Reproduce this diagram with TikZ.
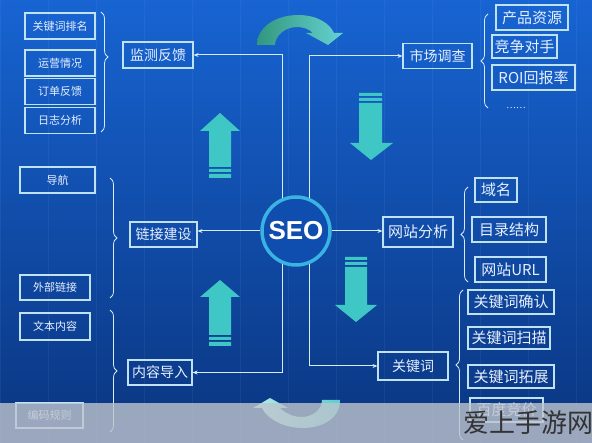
\documentclass[tikz,border=0pt]{standalone}
\usepackage{fontspec}
\setmainfont{Noto Sans CJK SC}
\newfontfamily\seofont{Liberation Sans}
\usetikzlibrary{decorations.pathreplacing,arrows.meta}
\definecolor{bgtop}{HTML}{1764D2}
\definecolor{bgmid}{HTML}{1152BE}
\definecolor{bgbot}{HTML}{0A3580}
\definecolor{boxline}{HTML}{BFE3F5}
\definecolor{boxtext}{HTML}{E6F0FF}
\definecolor{linecol}{HTML}{D6ECF8}
\definecolor{ringcol}{HTML}{3AB2E2}
\definecolor{seofill}{HTML}{0F4DAE}
\definecolor{arrowcyan}{HTML}{3FC7C6}
\definecolor{arrowgreen}{HTML}{33977E}
\definecolor{bandgrey}{HTML}{BEC4CD}
\tikzset{
  box/.style={draw=boxline, line width=1.1pt, text=boxtext, inner sep=2pt},
  subbox/.style={box, font=\fontsize{11}{12}\selectfont, minimum height=26pt},
  mainbox/.style={box, font=\fontsize{14}{16}\selectfont, minimum height=26pt},
  rightbox/.style={box, font=\fontsize{15}{17}\selectfont, minimum height=24pt},
  link/.style={draw=linecol, line width=1pt, -{Stealth[length=5pt,width=4pt]}},
  brace/.style={draw=linecol, line width=0.8pt, decorate, decoration={brace, amplitude=7pt}},
  bigarrow/.style={fill=arrowcyan},
  gridline/.style={draw=white, opacity=0.05, line width=0.6pt}
}
\begin{document}
\begin{tikzpicture}[x=1pt, y=-1pt]
\useasboundingbox (0,0) rectangle (592,443);
% background
\shade[top color=bgtop, middle color=bgmid, bottom color=bgbot] (0,0) rectangle (592,443);
\draw[gridline] (0,0) grid[step=48] (592,443);

% monitoring group
\node[subbox, minimum width=70pt] (rank) at (60,26) {关键词排名};
\node[subbox, minimum width=70pt] (oper) at (60,63) {运营情况};
\node[subbox, minimum width=70pt] (order) at (60,91.5) {订单反馈};
\node[subbox, minimum width=70pt] (log) at (60,120.5) {日志分析};
\node[mainbox, minimum width=70pt] (mon) at (158,55) {监测反馈};
\draw[brace, decoration={aspect=0.375}] (101,12) -- (101,132);

% market group
\node[mainbox, minimum width=69pt, minimum height=25pt] (mkt) at (437.5,56) {市场调查};
\node[rightbox, minimum width=72pt, minimum height=25pt] (prod) at (532,17.5) {产品资源};
\node[rightbox, minimum width=65pt, minimum height=23pt] (rival) at (524.5,46.5) {竞争对手};
\node[rightbox, minimum width=83pt, minimum height=25pt] (roi) at (533.5,77.5) {ROI回报率};
\node[text=boxtext, font=\fontsize{9}{10}\selectfont] (more) at (516,108) {……};
\draw[brace] (488,108) -- (488,14);

% link group
\node[subbox, minimum width=75pt] (nav) at (57.5,180) {导航};
\node[subbox, minimum width=70pt, minimum height=25pt] (ext) at (55,287.5) {外部链接};
\node[mainbox, minimum width=67pt, minimum height=25pt] (link) at (163.5,234.5) {链接建设};
\draw[brace] (110,178) -- (110,298);

% site group
\node[mainbox, minimum width=70pt, minimum height=30pt, font=\fontsize{15}{17}\selectfont] (site) at (418,232) {网站分析};
\node[rightbox, minimum width=42pt] (domain) at (496,190) {域名};
\node[rightbox, minimum width=74pt, minimum height=25pt] (dir) at (509,229.5) {目录结构};
\node[rightbox, minimum width=71pt, minimum height=25pt] (url) at (510.5,269.5) {网站URL};
\draw[brace] (468,282) -- (468,187);

% content group
\node[subbox, minimum width=70pt, minimum height=27pt] (text) at (55,326.5) {文本内容};
\node[subbox, minimum width=67pt, minimum height=25pt] (code) at (49.5,415.5) {编码规则};
\node[mainbox, minimum width=64pt, minimum height=25pt] (content) at (160,372.5) {内容导入};
\draw[brace] (110,310) -- (110,432);

% keyword group
\node[mainbox, minimum width=70pt, minimum height=28pt] (kw) at (413,366) {关键词};
\node[rightbox, minimum width=86pt] (kwok) at (511,302) {关键词确认};
\node[rightbox, minimum width=82pt, minimum height=22pt] (kwscan) at (509,338) {关键词扫描};
\node[rightbox, minimum width=86pt, minimum height=23pt] (kwext) at (511,376.5) {关键词拓展};
\node[rightbox, minimum width=73pt] (bid) at (506.5,410) {百度竞价};
\draw[brace] (463,440) -- (463,290);

% centre
\node[circle, draw=ringcol, line width=3.5pt, fill=seofill, minimum size=68pt, inner sep=0pt,
  text=white, font=\seofont\bfseries\fontsize{26}{28}\selectfont] (seo) at (296,231) {SEO};
\draw[link] (seo.113) |- (mon.east);
\draw[link] (seo.67) |- (mkt.west);
\draw[link] (seo.-113) |- (content.east);
\draw[link] (seo.-67) |- (kw.west);
\draw[link] (seo.west) -- (link.east |- seo.west);
\draw[link] (seo.east) -- (site.west |- seo.east);

% block arrows
\fill[bigarrow] (220,113) -- (240,131) -- (231,131) -- (231,167) -- (209,167) -- (209,131) -- (200,131) -- cycle;
\fill[bigarrow] (209,169) rectangle (231,172) (209,174) rectangle (231,178);
\fill[bigarrow] (359,93) rectangle (382,96) (359,98) rectangle (382,101);
\fill[bigarrow] (359,103) -- (382,103) -- (382,143) -- (393,143) -- (371,160) -- (350,143) -- (359,143) -- cycle;
\fill[bigarrow] (345,257) rectangle (367,260) (345,262) rectangle (367,265);
\fill[bigarrow] (345,267) -- (367,267) -- (367,305) -- (377,305) -- (356,322) -- (335,305) -- (345,305) -- cycle;
\fill[bigarrow] (220,280) -- (240,297) -- (231,297) -- (231,335) -- (209,335) -- (209,297) -- (200,297) -- cycle;
\fill[bigarrow] (209,337) rectangle (231,340) (209,342) rectangle (231,346);

% curved arrows
\shade[left color=arrowgreen, right color=arrowcyan!80!white]
  (257,45) .. controls (257,27) and (276,15) .. (298,15)
  .. controls (318,15) and (330,24) .. (334,33) -- (343,33) -- (328,45) -- (306,33) -- (313,33)
  .. controls (309,29) and (303,27) .. (297,27)
  .. controls (285,27) and (275,36) .. (275,45) -- cycle;
\shade[left color=arrowcyan!40!white, right color=arrowcyan!85!white]
  (340,400) .. controls (340,420) and (320,428) .. (303,428)
  .. controls (285,428) and (268,420) .. (262,408) -- (253,408) -- (270,398) -- (288,408) -- (280,408)
  .. controls (286,414) and (294,417) .. (302,417)
  .. controls (312,417) and (322,410) .. (322,400) -- cycle;

% bottom band
\fill[bandgrey, opacity=0.8] (0,403) rectangle (592,443);
\node[anchor=west, inner sep=0pt, text=black!80, font=\fontsize{26}{28}\selectfont] (mark) at (463,423) {爱上手游网};
\end{tikzpicture}
\end{document}
